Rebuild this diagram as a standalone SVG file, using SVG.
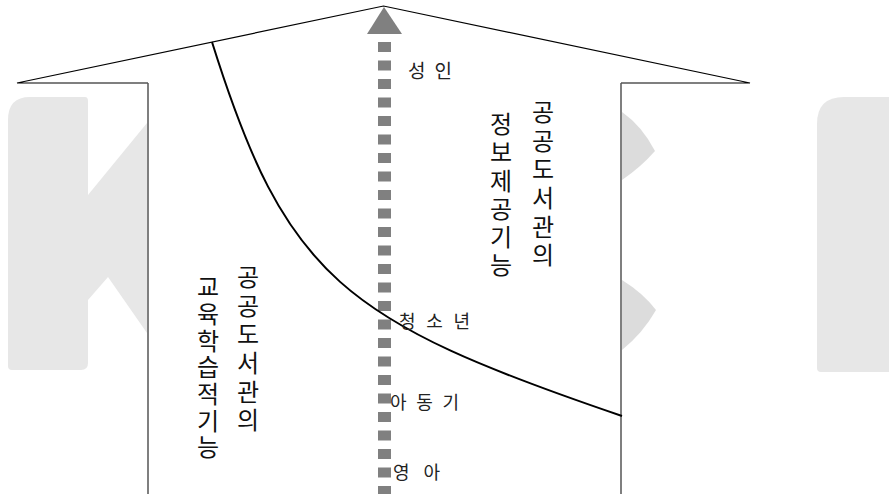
<svg xmlns="http://www.w3.org/2000/svg" width="889" height="494" viewBox="0 0 889 494">
<style>
.wm{fill:#e7e7e7;stroke:none}
.wm2{fill:#dcdcdc;stroke:none}
.col{font-family:"Noto Sans CJK KR","Noto Sans",sans-serif;font-size:24px;fill:#111;writing-mode:vertical-rl;font-weight:400}
.lbl{font-family:"Noto Sans CJK KR","Noto Sans",sans-serif;font-size:18px;fill:#222;font-weight:400}
.frame{fill:none;stroke:#000;stroke-width:1.2}
.side{fill:none;stroke:#555;stroke-width:1.5}
</style>
<rect width="889" height="494" fill="#fff"/>
<g id="watermark">
<path class="wm" d="M8,120 Q8,97 30,97 L85,97 Q88,97 88,101 L88,195 L147,123 L147,333 L108,277 L88,300 L88,363 Q88,370 81,370 L12,370 Q8,370 8,366 Z"/>
<path class="wm2" d="M622,112 Q642,126 655,151 Q641,167 622,180 Z"/>
<path class="wm2" d="M622,280 Q643,293 656,310 Q643,333 622,350 Z"/>
<path class="wm" d="M817,124 Q817,97 844,97 L889,97 L889,372 L821,372 Q817,372 817,368 Z"/>
</g>
<g id="house">
<polyline class="frame" points="148,83 17,83 383.5,6 750,83 621,83"/>
<line class="side" x1="148" y1="83" x2="148" y2="494"/>
<line class="side" x1="621" y1="83" x2="621" y2="494"/>
</g>
<g id="connectors">
<line x1="384.5" y1="42" x2="384.5" y2="494" stroke="#808080" stroke-width="13" stroke-dasharray="10 8.5"/>
<polygon points="367,34 384,7 402,34" fill="#808080"/>
<path d="M212,42 C286,278 343,321 622,416" fill="none" stroke="#000" stroke-width="2"/>
</g>
<g id="info-function">
<text class="col" x="543" y="100" letter-spacing="4.6">공공도서관의</text>
<text class="col" x="501" y="112" letter-spacing="4.2">정보제공기능</text>
</g>
<g id="edu-function">
<text class="col" x="248" y="265" letter-spacing="4.6">공공도서관의</text>
<text class="col" x="208" y="275" letter-spacing="2.7">교육학습적기능</text>
</g>
<g id="stage-adult"><text class="lbl" x="408" y="78" textLength="44" lengthAdjust="spacing" style="font-size:19px">성 인</text></g>
<g id="stage-youth"><text class="lbl" x="399" y="328" textLength="71" lengthAdjust="spacing">청 소 년</text></g>
<g id="stage-child"><text class="lbl" x="390" y="409" textLength="69" lengthAdjust="spacing">아 동 기</text></g>
<g id="stage-infant"><text class="lbl" x="393" y="479" textLength="47" lengthAdjust="spacing">영 아</text></g>
</svg>
